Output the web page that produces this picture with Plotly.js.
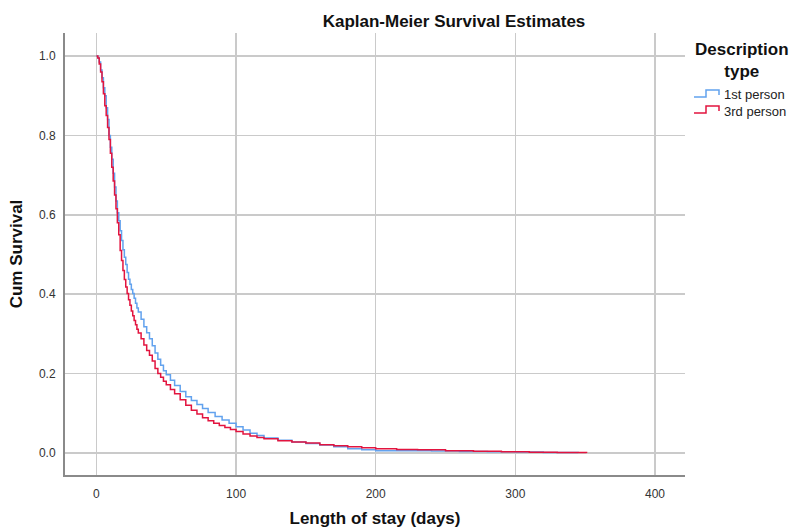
<!DOCTYPE html>
<html>
<head>
<meta charset="utf-8">
<script src="https://cdn.plot.ly/plotly-3.0.1.min.js"></script>
<style>html,body{margin:0;padding:0;background:#fff;}#chart{width:792px;height:528px;}</style>
</head>
<body>
<div id="chart"></div>
<script>
// 1st person (blue)
const firstDays = [0,1,2,3,4,5,6,7,8,9,10,11,12,13,14,15,16,17,18,19,20,21,22,23,24,25,26,27,28,29,30,32,34,36,38,40,42,44,46,48,50,53,56,60,64,68,72,76,80,85,90,95,100,105,110,115,120,130,140,150,160,170,180,190,200,220,240,260,280,300,320,345];
const firstSurv = [1.0,0.995,0.985,0.965,0.945,0.92,0.9,0.87,0.84,0.8,0.77,0.74,0.705,0.67,0.635,0.605,0.585,0.56,0.535,0.512,0.493,0.475,0.455,0.438,0.425,0.412,0.402,0.39,0.377,0.365,0.355,0.337,0.318,0.303,0.288,0.27,0.252,0.236,0.221,0.207,0.197,0.183,0.17,0.155,0.142,0.132,0.122,0.112,0.102,0.092,0.083,0.075,0.066,0.058,0.05,0.044,0.038,0.032,0.028,0.024,0.02,0.016,0.011,0.008,0.006,0.0055,0.005,0.004,0.003,0.0025,0.0015,0.0];
// 3rd person (red)
const thirdDays = [0,1,2,3,4,5,6,7,8,9,10,11,12,13,14,15,16,17,18,19,20,21,22,23,24,25,26,27,28,29,30,32,34,36,38,40,42,44,46,48,50,53,56,60,64,68,72,76,80,84,88,92,96,100,105,110,115,120,130,140,150,160,170,180,190,200,215,230,250,270,290,310,330,351];
const thirdSurv = [1.0,0.995,0.98,0.96,0.935,0.905,0.875,0.85,0.82,0.79,0.755,0.72,0.685,0.65,0.615,0.58,0.55,0.51,0.485,0.46,0.437,0.418,0.402,0.386,0.372,0.358,0.346,0.334,0.323,0.312,0.302,0.288,0.272,0.258,0.246,0.232,0.213,0.2,0.191,0.181,0.172,0.16,0.149,0.134,0.12,0.108,0.098,0.089,0.081,0.075,0.069,0.064,0.059,0.054,0.048,0.043,0.039,0.036,0.031,0.028,0.025,0.021,0.018,0.016,0.013,0.011,0.009,0.008,0.006,0.0045,0.003,0.002,0.001,0.0];

const seriesNames = ['1st person','3rd person'];
const seriesColors = ['#62a2ee','#e2143f'];
const xTicks = [0,100,200,300,400];
const yTicks = [0.0,0.2,0.4,0.6,0.8,1.0];

const F = 'Liberation Sans, Arial, sans-serif';

// plot-area geometry in pixels (for the hand-drawn legend)
const L = 65, R = 685, T = 33, B = 475;
const px = v => (v - L) / (R - L);
const py = v => (B - v) / (B - T);

const traces = [
  {x: firstDays, y: firstSurv, name: seriesNames[0], type: 'scatter', mode: 'lines',
   line: {shape: 'hv', color: seriesColors[0], width: 1.5}},
  {x: thirdDays, y: thirdSurv, name: seriesNames[1], type: 'scatter', mode: 'lines',
   line: {shape: 'hv', color: seriesColors[1], width: 1.5}}
];

// legend drawn by hand (step icons like the original)
const legendRows = [95, 111];
const shapes = [];
const annotations = [
  {text: '<b>Description<br>type</b>', xref: 'paper', yref: 'paper', x: px(742), y: py(60),
   xanchor: 'center', yanchor: 'middle', showarrow: false, align: 'center',
   font: {family: F, size: 17, color: '#111'}}
];
seriesNames.forEach((n, i) => {
  const yc = legendRows[i];
  shapes.push({type: 'path', xref: 'paper', yref: 'paper',
    path: `M ${px(694)} ${py(yc + 2)} L ${px(706)} ${py(yc + 2)} L ${px(706)} ${py(yc - 5)} L ${px(719)} ${py(yc - 5)} L ${px(719)} ${py(yc)}`,
    line: {color: seriesColors[i], width: 1.5}});
  annotations.push({text: n, xref: 'paper', yref: 'paper', x: px(722), y: py(yc),
    xanchor: 'left', yanchor: 'middle', showarrow: false,
    font: {family: F, size: 13, color: '#222'}});
});

const layout = {
  width: 792, height: 528,
  margin: {l: L, r: 792 - R, t: T, b: 528 - B},
  paper_bgcolor: '#fff', plot_bgcolor: '#fff',
  font: {family: F, size: 12, color: '#222'},
  showlegend: false,
  title: {text: '<b>Kaplan-Meier Survival Estimates</b>', font: {family: F, size: 17, color: '#111'},
          xref: 'container', x: 454/792, xanchor: 'center', yref: 'container', y: 1 - 21/528, yanchor: 'middle'},
  xaxis: {range: [-22.5, 421.5], tickvals: xTicks, ticks: '', showgrid: true, gridcolor: '#cacaca', gridwidth: 1.5,
          zeroline: false, showline: true, linecolor: '#8a8a8a', linewidth: 2, mirror: false,
          tickfont: {family: F, size: 12, color: '#333'}, ticklabelstandoff: 7,
          title: {text: '<b>Length of stay (days)</b>', font: {family: F, size: 17, color: '#111'}, standoff: 18}},
  yaxis: {range: [-0.0554, 1.058], tickvals: yTicks, tickformat: '.1f', ticks: '', showgrid: true, gridcolor: '#cacaca', gridwidth: 1.5,
          zeroline: false, showline: true, linecolor: '#8a8a8a', linewidth: 2, mirror: false,
          tickfont: {family: F, size: 12, color: '#333'}, ticklabelstandoff: 5,
          title: {text: '<b>Cum Survival</b>', font: {family: F, size: 17, color: '#111'}, standoff: 12}},
  shapes: shapes,
  annotations: annotations
};

Plotly.newPlot('chart', traces, layout, {displayModeBar: false, staticPlot: true});
</script>
</body>
</html>
